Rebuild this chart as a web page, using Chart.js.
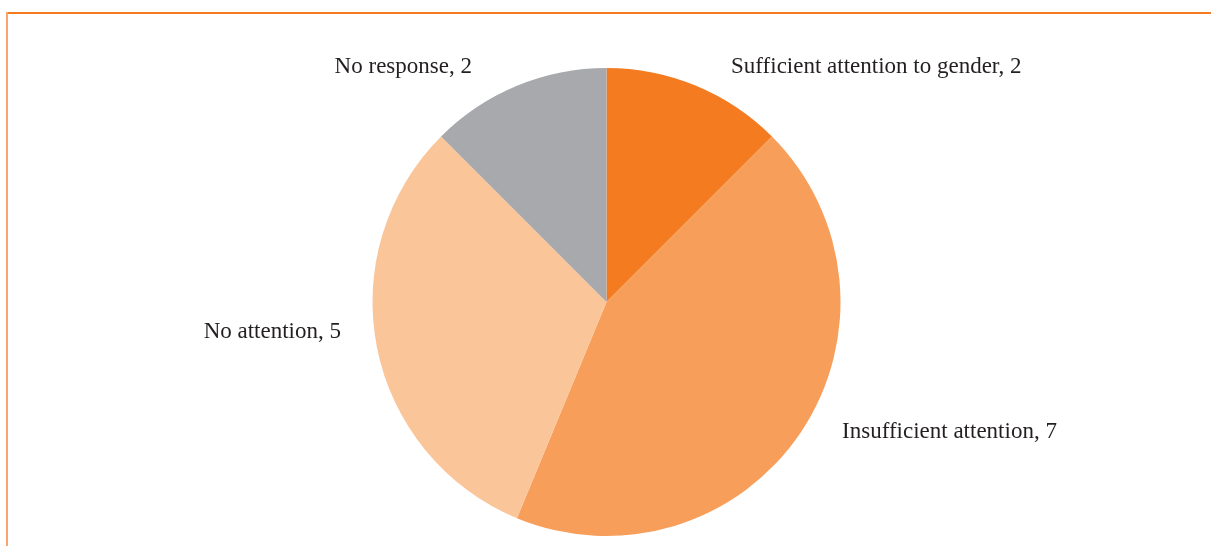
<!DOCTYPE html>
<html>
<head>
<meta charset="utf-8">
<script src="https://cdn.jsdelivr.net/npm/chart.js@4/dist/chart.umd.min.js"></script>
<style>
    html, body { margin: 0; padding: 0; background: #ffffff; }
    #wrap { width: 1213px; height: 546px; position: relative; }
</style>
</head>
<body>
<div id="wrap"><canvas id="canvas-pie"></canvas></div>
<script>
const categories = ['Sufficient attention to gender', 'Insufficient attention', 'No attention', 'No response'];
const counts = [2, 7, 5, 2];
const sliceColors = ['#f47b20', '#f89e5b', '#fbc59a', '#a7a9ac'];

// label placement: offset from the slice's outer edge at its mid angle
const labelOffsets = [
    { dx: 35, dy: -19, align: 'left' },
    { dx: 41, dy: 0, align: 'left' },
    { dx: -36, dy: -16, align: 'right' },
    { dx: -45, dy: -19, align: 'right' },
];

const frameLines = {
    id: 'frameLines',
    beforeDraw(chart) {
        const ctx = chart.ctx;
        ctx.save();
        ctx.lineWidth = 2;
        ctx.strokeStyle = '#f47b20';
        ctx.beginPath();
        ctx.moveTo(6, 13);
        ctx.lineTo(1211, 13);
        ctx.stroke();
        ctx.strokeStyle = '#f9a66a';
        ctx.beginPath();
        ctx.moveTo(7, 12);
        ctx.lineTo(7, 546);
        ctx.stroke();
        ctx.restore();
    }
};

const sliceLabels = {
    id: 'sliceLabels',
    afterDatasetsDraw(chart) {
        const ctx = chart.ctx;
        const meta = chart.getDatasetMeta(0);
        ctx.save();
        ctx.font = '23px "Liberation Serif", "Times New Roman", serif';
        ctx.fillStyle = '#231f20';
        ctx.textBaseline = 'middle';
        meta.data.forEach((arc, i) => {
            const p = arc.getProps(['x', 'y', 'startAngle', 'endAngle', 'outerRadius'], true);
            const mid = (p.startAngle + p.endAngle) / 2;
            const ex = p.x + Math.cos(mid) * p.outerRadius;
            const ey = p.y + Math.sin(mid) * p.outerRadius;
            const o = labelOffsets[i];
            ctx.textAlign = o.align;
            ctx.fillText(categories[i] + ', ' + counts[i], ex + o.dx, ey + o.dy);
        });
        ctx.restore();
    }
};

const pieConfig = {
    type: 'pie',
    data: {
        labels: categories,
        datasets: [
            {
                data: counts,
                backgroundColor: sliceColors,
                borderWidth: 0,
            }
        ]
    },
    options: {
        responsive: true,
        maintainAspectRatio: false,
        animation: false,
        layout: {
            padding: { top: 68, bottom: 10, left: 0, right: 0 }
        },
        plugins: {
            legend: { display: false },
            tooltip: { enabled: false },
        }
    },
    plugins: [frameLines, sliceLabels],
};

new Chart(document.getElementById('canvas-pie').getContext('2d'), pieConfig);
</script>
</body>
</html>
